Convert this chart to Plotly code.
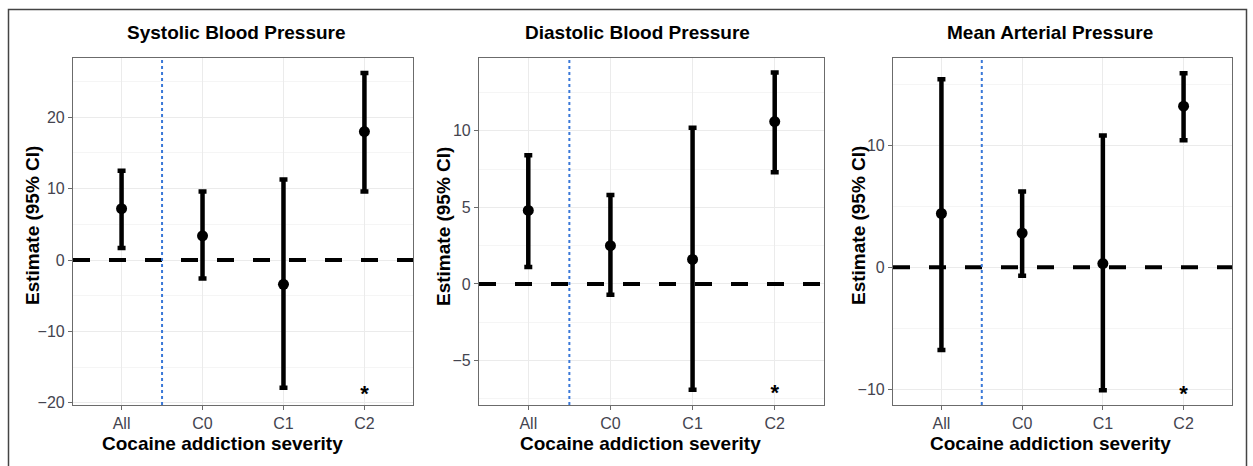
import plotly.graph_objects as go

# ---------------- data ----------------
categories = ["All", "C0", "C1", "C2"]

sbp_est = [7.2, 3.4, -3.4, 18.0]
sbp_low = [1.7, -2.6, -17.9, 9.6]
sbp_high = [12.5, 9.6, 11.3, 26.2]

dbp_est = [4.8, 2.5, 1.6, 10.6]
dbp_low = [1.1, -0.7, -6.9, 7.3]
dbp_high = [8.4, 5.8, 10.2, 13.8]

map_est = [4.4, 2.8, 0.3, 13.2]
map_low = [-6.8, -0.7, -10.1, 10.4]
map_high = [15.4, 6.2, 10.8, 15.9]

panel_titles = ["Systolic Blood Pressure", "Diastolic Blood Pressure", "Mean Arterial Pressure"]
y_title = "Estimate (95% CI)"
x_title = "Cocaine addiction severity"

sig_category = "C2"
sig_y = [-19.0, -7.2, -10.5]

y_ticks = [[-20, -10, 0, 10, 20], [-5, 0, 5, 10], [-10, 0, 10]]
y_minor = [5, 2.5, 5]
y_ranges = [[-20.3, 28.3], [-7.9, 14.75], [-11.3, 17.15]]

# ---------------- layout geometry ----------------
W, H = 1253, 466
x_dom_px = [(73, 413), (479, 824), (893, 1232)]
y_dom_px = (58, 405)
title_cx = [237, 637, 1050]
xtitle_cx = [222, 640, 1050]
ytitle_cx = [32, 443, 858]

FONT = "Liberation Sans, Arial, sans-serif"

panels = [
    (sbp_est, sbp_low, sbp_high),
    (dbp_est, dbp_low, dbp_high),
    (map_est, map_low, map_high),
]

fig = go.Figure()
annotations = []
shapes = []

for i, (est, low, high) in enumerate(panels):
    xa = "x" if i == 0 else f"x{i+1}"
    ya = "y" if i == 0 else f"y{i+1}"
    up = [h - e for h, e in zip(high, est)]
    dn = [e - l for e, l in zip(est, low)]
    fig.add_trace(go.Scatter(
        x=categories, y=est, mode="markers",
        marker=dict(color="black", size=11),
        error_y=dict(type="data", array=up, arrayminus=dn, color="black",
                     thickness=4.5, width=4),
        xaxis=xa, yaxis=ya, showlegend=False, hoverinfo="skip",
    ))
    fig.add_trace(go.Scatter(
        x=[sig_category], y=[sig_y[i]], mode="text", text=["<b>*</b>"],
        textfont=dict(family=FONT, size=22, color="black"),
        textposition="middle center",
        xaxis=xa, yaxis=ya, showlegend=False, hoverinfo="skip",
    ))

    x0, x1 = x_dom_px[i]
    xkey = "xaxis" if i == 0 else f"xaxis{i+1}"
    ykey = "yaxis" if i == 0 else f"yaxis{i+1}"
    fig.update_layout(**{
        xkey: dict(
            domain=[x0 / W, x1 / W], anchor=ya,
            type="category", categoryorder="array", categoryarray=categories,
            range=[-0.6, 3.6],
            showgrid=True, gridcolor="#ebebeb", gridwidth=1,
            showline=True, mirror=True, linecolor="#6b6b6b", linewidth=1.2,
            ticks="outside", ticklen=4, tickcolor="#6b6b6b",
            tickfont=dict(family=FONT, size=16, color="#44444f"),
            zeroline=False, fixedrange=True, automargin=False,
        ),
        ykey: dict(
            domain=[1 - y_dom_px[1] / H, 1 - y_dom_px[0] / H], anchor=xa,
            range=y_ranges[i], tickmode="array", tickvals=y_ticks[i],
            showgrid=True, gridcolor="#ebebeb", gridwidth=1,
            minor=dict(dtick=y_minor[i], showgrid=True, gridcolor="#f5f5f5", gridwidth=1),
            showline=True, mirror=True, linecolor="#6b6b6b", linewidth=1.2,
            ticks="outside", ticklen=4, tickcolor="#6b6b6b",
            tickfont=dict(family=FONT, size=16, color="#44444f"),
            zeroline=False, fixedrange=True, automargin=False,
        ),
    })

    # reference line at zero
    shapes.append(dict(type="line", xref=f"{xa} domain", yref=ya,
                       x0=0, x1=1, y0=0, y1=0, layer="above",
                       line=dict(color="black", width=4, dash="17px,19px")))
    # separator between overall and strata
    shapes.append(dict(type="line", xref=xa, yref=f"{ya} domain",
                       x0=0.5, x1=0.5, y0=0, y1=1, layer="above",
                       line=dict(color="#3a78d8", width=2, dash="dot")))

    annotations.append(dict(text=f"<b>{panel_titles[i]}</b>", xref="paper", yref="paper",
                            x=title_cx[i] / W, y=1 - 32 / H, xanchor="center", yanchor="middle",
                            showarrow=False, font=dict(family=FONT, size=19, color="black")))
    annotations.append(dict(text=f"<b>{x_title}</b>", xref="paper", yref="paper",
                            x=xtitle_cx[i] / W, y=1 - 443 / H, xanchor="center", yanchor="middle",
                            showarrow=False, font=dict(family=FONT, size=19, color="black")))
    annotations.append(dict(text=f"<b>{y_title}</b>", xref="paper", yref="paper",
                            x=ytitle_cx[i] / W, y=1 - 226 / H, xanchor="center", yanchor="middle",
                            textangle=-90,
                            showarrow=False, font=dict(family=FONT, size=19, color="black")))

# outer frame (bottom edge falls outside the image)
shapes.append(dict(type="rect", xref="paper", yref="paper",
                   x0=8.5 / W, x1=1246.5 / W, y0=-0.1, y1=1 - 9.5 / H,
                   line=dict(color="#444444", width=1.5), fillcolor="rgba(0,0,0,0)"))

fig.update_layout(
    width=W, height=H,
    margin=dict(l=0, r=0, t=0, b=0),
    paper_bgcolor="white", plot_bgcolor="white",
    shapes=shapes, annotations=annotations,
    showlegend=False,
)

fig.write_html("out.html", config={"displayModeBar": False},
               post_script="document.body.style.margin='0px';document.body.style.overflow='hidden';")
